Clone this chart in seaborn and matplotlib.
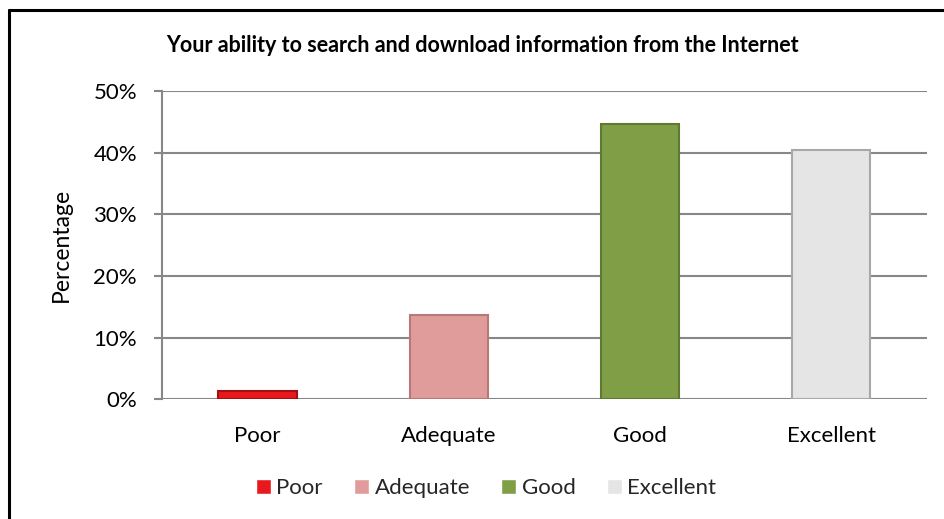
import matplotlib
matplotlib.use("Agg")
import matplotlib.pyplot as plt
from matplotlib.ticker import FuncFormatter
from matplotlib.lines import Line2D
import seaborn as sns
import pandas as pd

categories = ["Poor", "Adequate", "Good", "Excellent"]
values = [1.4, 13.6, 44.6, 40.4]
bar_colors = ["#E8191E", "#E09C9B", "#7F9E45", "#E5E5E5"]
edge_colors = ["#A01015", "#B87877", "#5E7A30", "#A8A8A8"]
title = "Your ability to search and download information from the Internet"
ylabel = "Percentage"
yticks = [0, 10, 20, 30, 40, 50]

df = pd.DataFrame({"category": categories, "value": values})

sns.set_theme(style="white")
plt.rcParams["font.family"] = ["Lato", "DejaVu Sans"]

W, H = 944, 519
fig = plt.figure(figsize=(W / 100, H / 100), dpi=100)
ax = fig.add_axes([162 / W, 1 - 399.3 / H, (926.7 - 162) / W, (399.3 - 91) / H])

sns.barplot(data=df, x="category", y="value", hue="category",
            palette=dict(zip(categories, bar_colors)), order=categories,
            hue_order=categories, width=0.41, dodge=False, ax=ax,
            legend=True, saturation=1, zorder=3)

for patch, ec in zip(ax.patches, edge_colors):
    patch.set_edgecolor(ec)
    patch.set_linewidth(1.5)

ax.set_ylim(0, 50)
ax.set_xlim(-0.5, 3.5)
ax.set_yticks(yticks)
ax.yaxis.set_major_formatter(FuncFormatter(lambda v, p: f"{v:.0f}%"))
ax.yaxis.grid(True, color="#878787", linewidth=1.5, zorder=0)
ax.set_axisbelow(True)
for s in ["top", "right", "bottom"]:
    ax.spines[s].set_visible(False)
ax.spines["left"].set_color("#878787")
ax.spines["left"].set_linewidth(1.5)
ax.tick_params(axis="y", which="major", left=True, length=6, width=1.5,
               color="#878787", labelsize=16, pad=12, labelcolor="black")
ax.tick_params(axis="x", length=0, labelsize=16, pad=19, labelcolor="black")
ax.set_xlabel("")
ax.set_ylabel(ylabel, fontsize=16.5, color="black", va="center")
ax.yaxis.set_label_coords((61 - 162) / (926.7 - 162), 0.5)

fig.text(482 / W, 1 - 52 / H, title, ha="center", va="baseline",
         fontsize=15.5, fontweight="bold", color="black")

handles, labels = ax.get_legend_handles_labels()
if ax.legend_:
    ax.legend_.remove()
fig.legend(handles, labels, loc="center", bbox_to_anchor=(486 / W, 1 - 488 / H),
           ncol=4, frameon=False, fontsize=16, handlelength=0.68,
           handleheight=0.68, handletextpad=0.25, columnspacing=1.4)

# chart frame (partially cropped)
fig.add_artist(Line2D([8.5 / W, 1.0], [1 - 10 / H, 1 - 10 / H],
                      transform=fig.transFigure, color="black", linewidth=2.2))
fig.add_artist(Line2D([8.5 / W, 8.5 / W], [0.0, 1 - 10 / H],
                      transform=fig.transFigure, color="black", linewidth=2.2))

fig.savefig("out.png", dpi=100, facecolor="white")
